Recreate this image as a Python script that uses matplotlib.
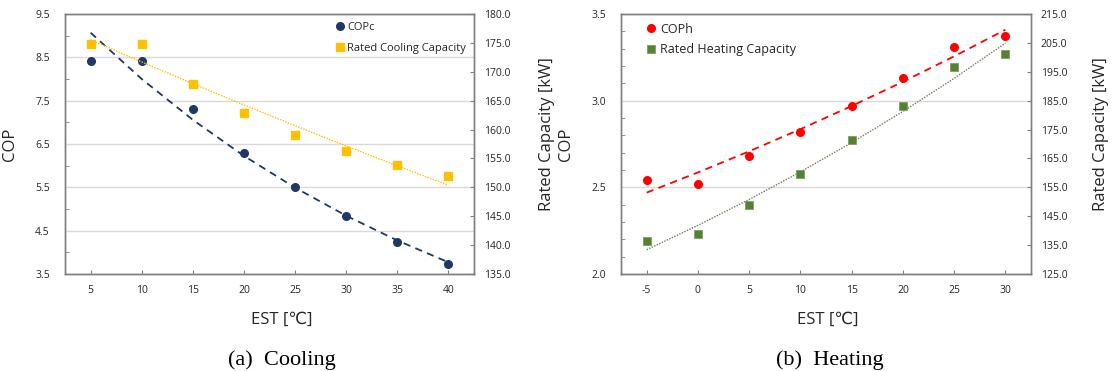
import numpy as np
import matplotlib
import matplotlib.pyplot as plt
from matplotlib.ticker import FixedLocator, FormatStrFormatter

matplotlib.use("Agg")

plt.rcParams["font.family"] = ["Open Sans", "DejaVu Sans"]
plt.rcParams["axes.unicode_minus"] = False

# cooling panel
est_cool = [5, 10, 15, 20, 25, 30, 35, 40]
cop_c = [8.42, 8.42, 7.30, 6.30, 5.51, 4.83, 4.23, 3.72]
cap_cool = [174.8, 174.8, 167.8, 162.9, 159.1, 156.2, 153.8, 152.0]

# heating panel
est_heat = [-5, 0, 5, 10, 15, 20, 25, 30]
cop_h = [2.54, 2.52, 2.68, 2.82, 2.97, 3.13, 3.31, 3.375]
cap_heat = [136.5, 138.7, 148.8, 159.7, 171.3, 183.2, 196.5, 201.2]

NAVY = "#1F3864"
YELLOW = "#FFC000"
RED = "#FF0000"
GREEN = "#548235"
TXT = "#262626"


def exp_trend(x, y):
    # Excel style exponential trendline
    x = np.asarray(x, float)
    b, a = np.polyfit(x, np.log(y), 1)
    return x, np.exp(a + b * x)


def style(ax, ax2):
    for a in (ax, ax2):
        for s in a.spines.values():
            s.set_color("#7F7F7F")
            s.set_linewidth(1.0)
    ax.grid(axis="y", which="major", color="#D9D9D9", linewidth=1.0)
    ax.set_axisbelow(True)
    ax.tick_params(axis="y", which="major", length=0, labelsize=7.5, pad=11, colors=TXT)
    ax.tick_params(axis="y", which="minor", direction="in", length=3, color="#7F7F7F")
    ax.tick_params(axis="x", which="major", direction="in", length=3, labelsize=7.5,
                   pad=8, colors=TXT)
    ax.tick_params(axis="x", color="#7F7F7F")
    ax2.tick_params(axis="y", direction="in", length=3, labelsize=7.5, pad=7,
                    colors=TXT)
    ax2.tick_params(axis="y", color="#7F7F7F")
    ax2.yaxis.set_major_formatter(FormatStrFormatter("%.1f"))


fig = plt.figure(figsize=(11.12, 3.71), dpi=100)
b, h = 0.2615, 0.7008

# (a) Cooling
ax = fig.add_axes([0.0585, b, 0.3678, h])
ax2 = ax.twinx()
ax.set_xlim(2.5, 42.5)
ax.set_ylim(3.5, 9.5)
ax.set_yticks(np.arange(3.5, 9.6, 1.0))
ax.yaxis.set_minor_locator(FixedLocator(np.arange(4.0, 9.1, 1.0)))
ax.set_xticks(est_cool)
ax2.set_ylim(135, 180)
ax2.set_yticks(np.arange(135, 181, 5))
style(ax, ax2)

tx, ty = exp_trend(est_cool, cop_c)
ax.plot(tx, ty, ls=(0, (4, 3)), color=NAVY, lw=1.3, zorder=2)
tx, ty = exp_trend(est_cool, cap_cool)
ax2.plot(tx, ty, ls=(0, (1, 1)), color=YELLOW, lw=1.0, zorder=2)
h1, = ax.plot(est_cool, cop_c, "o", color=NAVY, ms=5.5, label="COPc", zorder=3)
h2, = ax2.plot(est_cool, cap_cool, "s", color=YELLOW, ms=5.5,
               label="Rated Cooling Capacity", zorder=3)
ax2.legend(handles=[h1, h2], loc="upper right", frameon=False, fontsize=8,
           handlelength=0.8, handletextpad=0.3, labelspacing=0.9,
           borderaxespad=0.3, bbox_to_anchor=(1.0, 1.0), labelcolor=TXT)
ax.set_ylabel("COP", fontsize=12, color=TXT)
ax.yaxis.set_label_coords(-0.115, 0.5)
ax2.set_ylabel("Rated Capacity [kW]", fontsize=12, color=TXT)
ax2.yaxis.set_label_coords(1.16, 0.54)

# (b) Heating
bx = fig.add_axes([0.5585, b, 0.3687, h])
bx2 = bx.twinx()
bx.set_xlim(-7.5, 32.5)
bx.set_ylim(2.0, 3.5)
bx.set_yticks(np.arange(2.0, 3.51, 0.5))
bx.yaxis.set_minor_locator(FixedLocator(np.arange(2.0, 3.51, 0.1)))
bx.set_xticks(est_heat)
bx2.set_ylim(125, 215)
bx2.set_yticks(np.arange(125, 216, 10))
style(bx, bx2)

tx, ty = exp_trend(est_heat, cop_h)
bx.plot(tx, ty, ls=(0, (4, 3)), color=RED, lw=1.3, zorder=2)
tx, ty = exp_trend(est_heat, cap_heat)
bx2.plot(tx, ty, ls=(0, (1, 1)), color="#6B7F5A", lw=1.0, zorder=2)
g1, = bx.plot(est_heat, cop_h, "o", color=RED, ms=5.5, label="COPh", zorder=3)
g2, = bx2.plot(est_heat, cap_heat, "s", color=GREEN, mec="#7FA05F", mew=0.6,
               ms=5.5, label="Rated Heating Capacity", zorder=3)
bx2.legend(handles=[g1, g2], loc="upper left", frameon=False, fontsize=9,
           handlelength=0.8, handletextpad=0.3, labelspacing=0.6,
           borderaxespad=0.3, bbox_to_anchor=(0.04, 1.0), labelcolor=TXT)
bx.set_ylabel("COP", fontsize=12, color=TXT)
bx.yaxis.set_label_coords(-0.115, 0.5)
bx2.set_ylabel("Rated Capacity [kW]", fontsize=12, color=TXT)
bx2.yaxis.set_label_coords(1.15, 0.54)

# x labels and captions
for xc in (0.2535, 0.7445):
    fig.text(xc, 0.138, "EST [\u2103]", ha="center", va="center", fontsize=12,
             color=TXT)
fig.text(0.2535, 0.03, "(a)  Cooling", ha="center", va="center", fontsize=16,
         family=["Liberation Serif", "DejaVu Serif"], color="black")
fig.text(0.7465, 0.03, "(b)  Heating", ha="center", va="center", fontsize=16,
         family=["Liberation Serif", "DejaVu Serif"], color="black")

fig.savefig("out.png", dpi=100)
